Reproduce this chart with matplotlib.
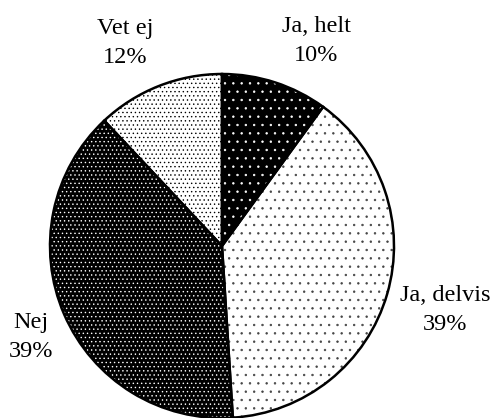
import matplotlib
matplotlib.use("Agg")
import matplotlib.pyplot as plt

categories = ["Ja, helt", "Ja, delvis", "Nej", "Vet ej"]
values = [10, 39, 39, 12]

# styling
faces = ["black", "white", "black", "white"]
dotcol = ["white", "#444444", "white", "black"]
hatches = ["..", "..", "....", "...."]
label_pos = [(316, 41), (445, 310), (31, 337), (125, 43)]  # pixel positions (x, y from top)

W, H = 496, 418
plt.rcParams["hatch.linewidth"] = 0.5
fig = plt.figure(figsize=(W / 100, H / 100), dpi=100)
ax = fig.add_axes([0, 0, 1, 1])

cx, cy, r = 222, H - 246, 172

# fill + hatch layer
wedges, _ = ax.pie(values, startangle=90, counterclock=False, center=(cx, cy),
                   radius=r, frame=True)
for w, fc, dc, h in zip(wedges, faces, dotcol, hatches):
    w.set_facecolor(fc)
    w.set_edgecolor(dc)
    w.set_hatch(h)
    w.set_linewidth(0)
# outline layer
ax.pie(values, startangle=90, counterclock=False, center=(cx, cy),
       radius=r, frame=True,
       wedgeprops=dict(fill=False, edgecolor="black", linewidth=1.8))
ax.set_xlim(0, W)
ax.set_ylim(0, H)
ax.set_aspect("equal")
ax.axis("off")

for cat, v, (px, py) in zip(categories, values, label_pos):
    ax.text(px, H - py, f"{cat}\n{v}%", ha="center", va="center",
            fontsize=17.5, family="Liberation Serif", linespacing=1.45)

fig.savefig("out.png", dpi=100)
